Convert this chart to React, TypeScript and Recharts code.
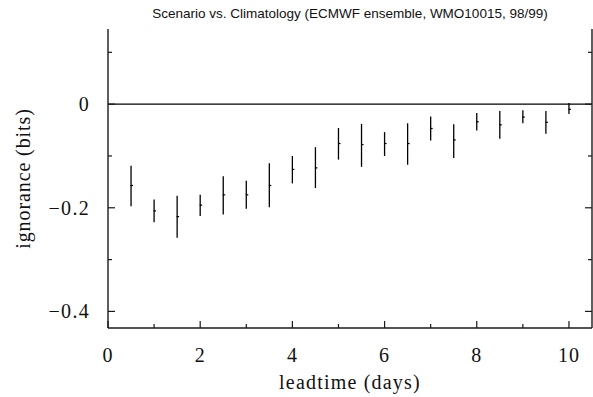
import {
  ComposedChart,
  Scatter,
  ErrorBar,
  XAxis,
  YAxis,
  ReferenceLine,
} from "recharts";

// leadtime (days) and ignorance score: centre, upper and lower ends of each bar
const leadtimes = [0.5, 1, 1.5, 2, 2.5, 3, 3.5, 4, 4.5, 5, 5.5, 6, 6.5, 7, 7.5, 8, 8.5, 9, 9.5, 10];
const centres = [-0.157, -0.206, -0.217, -0.195, -0.175, -0.175, -0.157, -0.126, -0.123, -0.076, -0.078, -0.076, -0.076, -0.047, -0.069, -0.034, -0.04, -0.025, -0.035, -0.01];
const uppers = [-0.119, -0.184, -0.177, -0.175, -0.139, -0.148, -0.114, -0.1, -0.083, -0.046, -0.038, -0.054, -0.037, -0.024, -0.039, -0.017, -0.013, -0.012, -0.013, 0.002];
const lowers = [-0.197, -0.228, -0.258, -0.216, -0.213, -0.202, -0.199, -0.153, -0.162, -0.107, -0.121, -0.1, -0.117, -0.07, -0.104, -0.051, -0.067, -0.037, -0.057, -0.019];

const xTicks = [0, 1, 2, 3, 4, 5, 6, 7, 8, 9, 10];
const xLabelled = [0, 2, 4, 6, 8, 10];
const yTicks = [0.1, 0, -0.1, -0.2, -0.3, -0.4];
const yLabelled = [0, -0.2, -0.4];

const data = leadtimes.map((t, i) => ({
  t,
  v: centres[i],
  err: [centres[i] - lowers[i], uppers[i] - centres[i]],
}));

const W = 593;
const H = 397;
const LEFT = 108;
const RIGHT = 592;
const TOP = 29;
const BOTTOM = 328;
const INK = "#1a1a1a";
const SERIF = "'Liberation Serif', 'DejaVu Serif', serif";

const fmtY = (v: number) => (v === 0 ? "0" : v < 0 ? "\u2212" + Math.abs(v).toFixed(1) : v.toFixed(1));

const BottomTick = ({ x, payload }: any) => {
  const major = xLabelled.includes(payload.value);
  return (
    <g>
      <line x1={x} x2={x} y1={BOTTOM} y2={BOTTOM - (major ? 7 : 4)} stroke={INK} strokeWidth={1.2} />
      {major && (
        <text x={x} y={362} textAnchor="middle" fontFamily={SERIF} fontSize={20} letterSpacing={1} fill="#111">
          {payload.value}
        </text>
      )}
    </g>
  );
};

const TopTick = ({ x, payload }: any) => {
  const major = xLabelled.includes(payload.value);
  return <line x1={x} x2={x} y1={TOP} y2={TOP + (major ? 7 : 4)} stroke={INK} strokeWidth={1.2} />;
};

const LeftTick = ({ y, payload }: any) => {
  const major = yLabelled.some((v) => Math.abs(v - payload.value) < 1e-9);
  return (
    <g>
      <line x1={LEFT} x2={LEFT + (major ? 7 : 4)} y1={y} y2={y} stroke={INK} strokeWidth={1.2} />
      {major && (
        <text x={90} y={y + 7} textAnchor="end" fontFamily={SERIF} fontSize={20} letterSpacing={1.3} fill="#111">
          {fmtY(payload.value)}
        </text>
      )}
    </g>
  );
};

const RightTick = ({ y, payload }: any) => {
  const major = yLabelled.some((v) => Math.abs(v - payload.value) < 1e-9);
  return <line x1={RIGHT} x2={RIGHT - (major ? 7 : 4)} y1={y} y2={y} stroke={INK} strokeWidth={1.2} />;
};

const Centre = ({ cx, cy }: any) => (
  <line x1={cx - 0.5} x2={cx + 2} y1={cy} y2={cy} stroke="#000" strokeWidth={1.2} />
);

export default function App() {
  return (
    <div style={{ position: "absolute", left: 0, top: 0, width: W, height: H, background: "#fff" }}>
      <ComposedChart width={W} height={H} data={data} margin={{ top: TOP, right: 0, bottom: 0, left: 0 }}>
        <XAxis
          dataKey="t"
          type="number"
          domain={[0, 10.5]}
          ticks={xTicks}
          interval={0}
          height={H - BOTTOM}
          tickLine={false}
          tick={<BottomTick />}
          axisLine={{ stroke: INK, strokeWidth: 1.4 }}
          allowDataOverflow
        />
        <XAxis
          xAxisId="top"
          orientation="top"
          type="number"
          domain={[0, 10.5]}
          ticks={xTicks}
          interval={0}
          height={0}
          tickLine={false}
          tick={<TopTick />}
          axisLine={{ stroke: INK, strokeWidth: 1.4 }}
          allowDataOverflow
        />
        <YAxis
          type="number"
          domain={[-0.432, 0.145]}
          ticks={yTicks}
          interval={0}
          width={LEFT}
          tickLine={false}
          tick={<LeftTick />}
          axisLine={{ stroke: INK, strokeWidth: 1.4 }}
          allowDataOverflow
        />
        <YAxis
          yAxisId="right"
          orientation="right"
          type="number"
          domain={[-0.432, 0.145]}
          ticks={yTicks}
          interval={0}
          width={W - RIGHT}
          tickLine={false}
          tick={<RightTick />}
          axisLine={{ stroke: INK, strokeWidth: 1.4 }}
          allowDataOverflow
        />
        <ReferenceLine y={0} stroke="#000" strokeWidth={1.3} />
        <Scatter dataKey="v" shape={<Centre />} isAnimationActive={false}>
          <ErrorBar dataKey="err" direction="y" width={0} stroke="#000" strokeWidth={1.3} />
        </Scatter>
      </ComposedChart>
      <svg width={W} height={H} style={{ position: "absolute", left: 0, top: 0, pointerEvents: "none" }}>
        <text
          x={(LEFT + RIGHT) / 2}
          y={18}
          textAnchor="middle"
          fontFamily="'Liberation Sans', 'DejaVu Sans', sans-serif"
          fontSize={13.5}
          fill="#111"
        >
          Scenario vs. Climatology (ECMWF ensemble, WMO10015, 98/99)
        </text>
        <text
          x={(LEFT + RIGHT) / 2}
          y={389}
          textAnchor="middle"
          fontFamily={SERIF}
          fontSize={20}
          letterSpacing={1.2}
          fill="#111"
        >
          leadtime (days)
        </text>
        <text
          x={23}
          y={(TOP + BOTTOM) / 2}
          textAnchor="middle"
          dominantBaseline="central"
          transform={`rotate(-90 23 ${(TOP + BOTTOM) / 2})`}
          fontFamily={SERIF}
          fontSize={20}
          letterSpacing={0.9}
          fill="#111"
        >
          ignorance (bits)
        </text>
      </svg>
    </div>
  );
}
